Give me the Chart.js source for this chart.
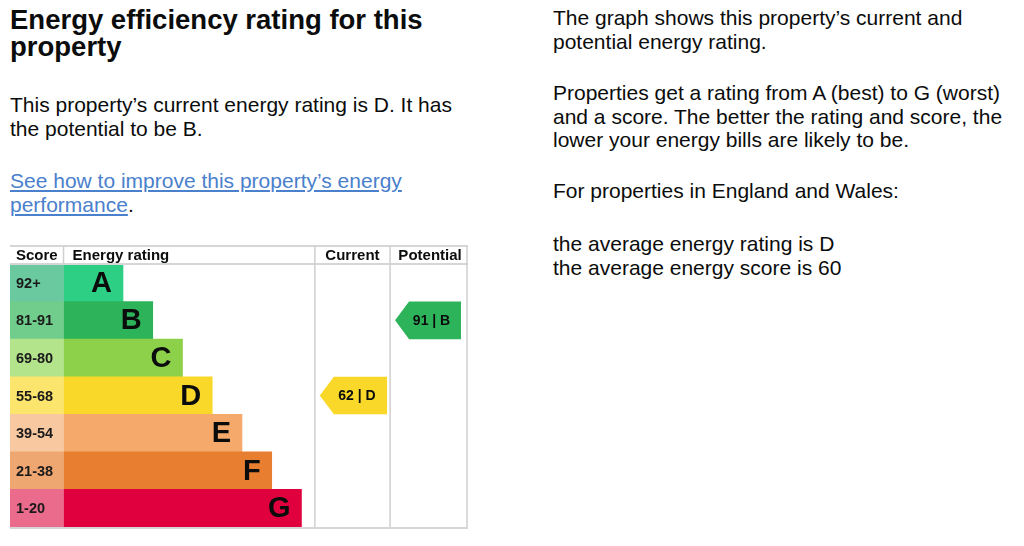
<!DOCTYPE html>
<html>
<head>
<meta charset="utf-8">
<script src="https://cdn.jsdelivr.net/npm/chart.js@4.4.1/dist/chart.umd.min.js"></script>
<style>
  body { margin:0; background:#fff; font-family:"Liberation Sans", Arial, sans-serif; color:#0b0c0c; }
  .t { position:absolute; white-space:nowrap; }
  h1 { margin:0; font-size:27.5px; font-weight:bold; line-height:27px; }
  .p { font-size:21px; line-height:23.5px; }
  a { color:#4a80cc; text-decoration:underline; }
  #wrap { position:absolute; left:10px; top:245px; width:458px; height:284px; }
</style>
</head>
<body>
<div class="t" style="left:10px;top:6px"><h1>Energy efficiency rating for this<br>property</h1></div>
<div class="t p" style="left:10px;top:93px">This property’s current energy rating is D. It has<br>the potential to be B.</div>
<div class="t p" style="left:10px;top:169px"><a href="#">See how to improve this property’s energy<br>performance</a>.</div>

<div class="t p" style="left:553px;top:6px">The graph shows this property’s current and<br>potential energy rating.</div>
<div class="t p" style="left:553px;top:81px">Properties get a rating from A (best) to G (worst)<br>and a score. The better the rating and score, the<br>lower your energy bills are likely to be.</div>
<div class="t p" style="left:553px;top:179px">For properties in England and Wales:</div>
<div class="t p" style="left:553px;top:232px">the average energy rating is D<br>the average energy score is 60</div>

<div id="wrap"><canvas id="epc" width="458" height="284"></canvas></div>

<script>
// bands and their score ranges
var bands = ['A','B','C','D','E','F','G'];
var scoreRanges = ['92+','81-91','69-80','55-68','39-54','21-38','1-20'];
var bandMin = [92,81,69,55,39,21,1];
var barLengths = [2,3,4,5,6,7,8];
var currentScore = 62;
var potentialScore = 91;

var bandColors = ['#2ccf84','#2db35a','#8dd04a','#f9d829','#f5aa6b','#e87e30','#e0003d'];
var cellColors = ['#6bc9a0','#70cd8b','#b3e38b','#fbe56c','#f8c8a0','#efa772','#ea6b8b'];

// x layout (in bar units)
var xMin = -1.8, xMax = 13.6;
var colCurrent = 8.45, colPotential = 10.98;

function bandOf(score){
  for (var i = 0; i < bandMin.length; i++){ if (score >= bandMin[i]) return i; }
  return bandMin.length - 1;
}

var epcPlugin = {
  id: 'epc',
  afterDatasetsDraw: function(chart){
    var ctx = chart.ctx, xs = chart.scales.x, ys = chart.scales.y, ca = chart.chartArea;
    var rowH = (ca.bottom - ca.top) / bands.length;
    var left = xs.getPixelForValue(xMin), right = xs.getPixelForValue(xMax);
    var x0 = xs.getPixelForValue(0);
    var xc = xs.getPixelForValue(colCurrent), xp = xs.getPixelForValue(colPotential);
    ctx.save();

    // band letters + score labels
    ctx.textBaseline = 'middle';
    for (var i = 0; i < bands.length; i++){
      var y = ys.getPixelForValue(i);
      ctx.fillStyle = '#0b0c0c';
      ctx.font = 'bold 29px "Liberation Sans", Arial';
      ctx.textAlign = 'right';
      ctx.fillText(bands[i], xs.getPixelForValue(barLengths[i]) - 11, y + 1);
      ctx.font = 'bold 14.5px "Liberation Sans", Arial';
      ctx.textAlign = 'left';
      ctx.fillStyle = '#1a1a1a';
      ctx.fillText(scoreRanges[i], left + 6, y + 1);
    }

    // grid
    ctx.strokeStyle = '#d6d6d6';
    ctx.lineWidth = 2;
    ctx.beginPath();
    ctx.moveTo(left, 1); ctx.lineTo(right, 1);
    ctx.moveTo(left, ca.top); ctx.lineTo(right, ca.top);
    ctx.moveTo(left, ca.bottom + 1); ctx.lineTo(right, ca.bottom + 1);
    ctx.stroke();
    ctx.lineWidth = 1.5;
    ctx.strokeStyle = '#cfcfcf';
    ctx.beginPath();
    ctx.moveTo(x0, 1); ctx.lineTo(x0, ca.top);
    ctx.moveTo(xc, 1); ctx.lineTo(xc, ca.bottom);
    ctx.moveTo(xp, 1); ctx.lineTo(xp, ca.bottom);
    ctx.moveTo(right - 1, 1); ctx.lineTo(right - 1, ca.bottom);
    ctx.stroke();

    // header
    var hy = (1 + ca.top) / 2 + 1;
    ctx.fillStyle = '#0b0c0c';
    ctx.font = 'bold 15px "Liberation Sans", Arial';
    ctx.textAlign = 'left';
    ctx.fillText('Score', left + 6, hy);
    ctx.fillText('Energy rating', x0 + 9, hy);
    ctx.textAlign = 'center';
    ctx.fillText('Current', (xc + xp) / 2, hy);
    ctx.fillText('Potential', (xp + right) / 2 + 1, hy);

    // arrows
    function arrow(a, b, score){
      var i = bandOf(score);
      var yc = ys.getPixelForValue(i), top = yc - rowH / 2, bot = yc + rowH / 2;
      var tip = 14;
      ctx.fillStyle = bandColors[i];
      ctx.beginPath();
      ctx.moveTo(a, yc);
      ctx.lineTo(a + tip, top);
      ctx.lineTo(b, top);
      ctx.lineTo(b, bot);
      ctx.lineTo(a + tip, bot);
      ctx.closePath();
      ctx.fill();
      ctx.fillStyle = '#0b0c0c';
      ctx.font = 'bold 14px "Liberation Sans", Arial';
      ctx.textAlign = 'center';
      ctx.fillText(score + ' | ' + bands[i], (a + tip / 2 + b) / 2, yc + 1);
    }
    arrow(xc + 5, xp - 3, currentScore);
    arrow(xp + 5, right - 7, potentialScore);
    ctx.restore();
  }
};

new Chart(document.getElementById('epc'), {
  type: 'bar',
  data: {
    labels: bands,
    datasets: [
      {
        label: 'Score',
        data: scoreRanges.map(function(){ return [xMin, 0]; }),
        backgroundColor: cellColors,
        categoryPercentage: 1, barPercentage: 1, grouped: false
      },
      {
        label: 'Energy rating',
        data: barLengths,
        backgroundColor: bandColors,
        categoryPercentage: 1, barPercentage: 1, grouped: false
      }
    ]
  },
  options: {
    indexAxis: 'y',
    responsive: false,
    animation: false,
    layout: { padding: { top: 19, bottom: 2, left: 0, right: 0 } },
    plugins: { legend: { display: false }, tooltip: { enabled: false } },
    scales: {
      x: { type: 'linear', min: xMin, max: xMax, display: false },
      y: { display: false }
    }
  },
  plugins: [epcPlugin]
});
</script>
</body>
</html>
